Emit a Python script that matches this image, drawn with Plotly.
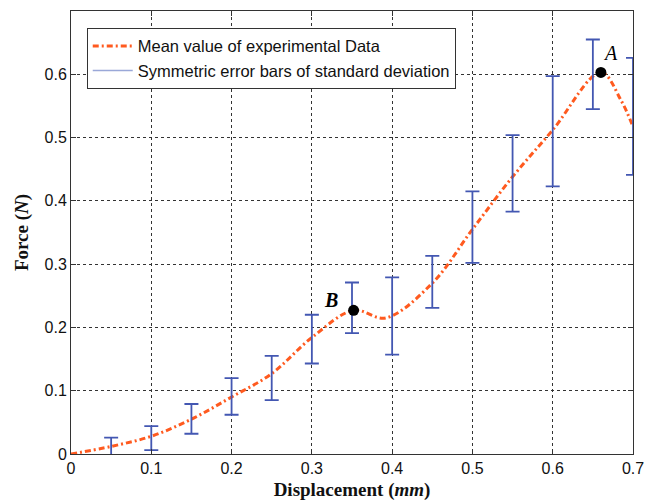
import plotly.graph_objects as go

# Mean curve (smoothed)
curve_x = [0, 0.05, 0.1, 0.15, 0.2, 0.25, 0.3, 0.352, 0.392, 0.45, 0.5, 0.55, 0.6, 0.66, 0.685, 0.7]
curve_y = [0, 0.012, 0.028, 0.055, 0.09, 0.127, 0.184, 0.227, 0.215, 0.27, 0.355, 0.438, 0.512, 0.603, 0.559, 0.517]

# Error bars (low/high ends)
err_x = [0.05, 0.1, 0.15, 0.2, 0.25, 0.3, 0.35, 0.4, 0.45, 0.5, 0.55, 0.6, 0.65, 0.7]
err_lo = [-0.002, 0.006, 0.032, 0.062, 0.085, 0.143, 0.191, 0.157, 0.231, 0.302, 0.383, 0.423, 0.545, 0.441]
err_hi = [0.026, 0.044, 0.079, 0.120, 0.155, 0.220, 0.271, 0.279, 0.313, 0.415, 0.504, 0.597, 0.655, 0.626]

pts_x = [0.352, 0.66]
pts_y = [0.227, 0.603]
pts_lbl = ["B", "A"]

x_ticks = [0, 0.1, 0.2, 0.3, 0.4, 0.5, 0.6, 0.7]
y_ticks = [0, 0.1, 0.2, 0.3, 0.4, 0.5, 0.6]

orange = "#FF5A1F"
blue = "#4357B2"

mid = [(a + b) / 2 for a, b in zip(err_lo, err_hi)]
half = [(b - a) / 2 for a, b in zip(err_lo, err_hi)]

fig = go.Figure()
fig.add_trace(go.Scatter(
    x=curve_x, y=curve_y, mode="lines", line=dict(color=orange, width=3, dash="6px,3px,2px,3px", shape="spline", smoothing=1.0),
    name="Mean value of experimental Data"))
fig.add_trace(go.Scatter(
    x=err_x, y=mid, mode="markers", marker=dict(size=0.1, color="rgba(0,0,0,0)"),
    error_y=dict(type="data", array=half, color=blue, thickness=1.8, width=7, visible=True),
    showlegend=False, hoverinfo="skip"))
fig.add_trace(go.Scatter(
    x=[None], y=[None], mode="lines", line=dict(color="#9AA8D8", width=1.5),
    name="Symmetric error bars of standard deviation"))
fig.add_trace(go.Scatter(
    x=pts_x, y=pts_y, mode="markers", marker=dict(size=11, color="black"), showlegend=False))

for xv, yv, lbl in zip(pts_x, pts_y, pts_lbl):
    if lbl == "A":
        dx, dy = 10, 19
        txt = "<i>A</i>"
    else:
        dx, dy = -23, 10
        txt = "<b><i>B</i></b>"
    fig.add_annotation(x=xv, y=yv, text=txt, showarrow=False, xshift=dx, yshift=dy,
                       font=dict(family="Liberation Serif", size=20, color="black"))

axis_common = dict(
    showgrid=True, gridcolor="#333333", griddash="dot", gridwidth=1,
    showline=True, linecolor="#333333", linewidth=1, mirror="ticks",
    ticks="inside", ticklen=5, tickcolor="#333333",
    zeroline=False, automargin=False,
    tickfont=dict(family="Liberation Sans", size=16, color="#111111"),
)

fig.update_xaxes(range=[0, 0.7], tickvals=x_ticks, ticktext=[("%g" % v) for v in x_ticks],
                 title=dict(text="Displacement (<i>mm</i>)", font=dict(family="Liberation Serif", size=19, color="#111111", weight="bold"), standoff=6),
                 **axis_common)
fig.update_yaxes(range=[0, 0.7], tickvals=y_ticks, ticktext=[("%g" % v) for v in y_ticks],
                 title=dict(text="Force (<i>N</i>)", font=dict(family="Liberation Serif", size=19, color="#111111", weight="bold"), standoff=10),
                 **axis_common)

fig.update_layout(
    width=672, height=503,
    margin=dict(l=71, r=39, t=11, b=49),
    plot_bgcolor="white", paper_bgcolor="white",
    legend=dict(x=0.028, y=0.962, xanchor="left", yanchor="top",
                bgcolor="white", bordercolor="#333333", borderwidth=1,
                font=dict(family="Liberation Sans", size=16.5, color="#111111"),
                tracegroupgap=0, itemwidth=40),
)

fig.write_html("out.html")
